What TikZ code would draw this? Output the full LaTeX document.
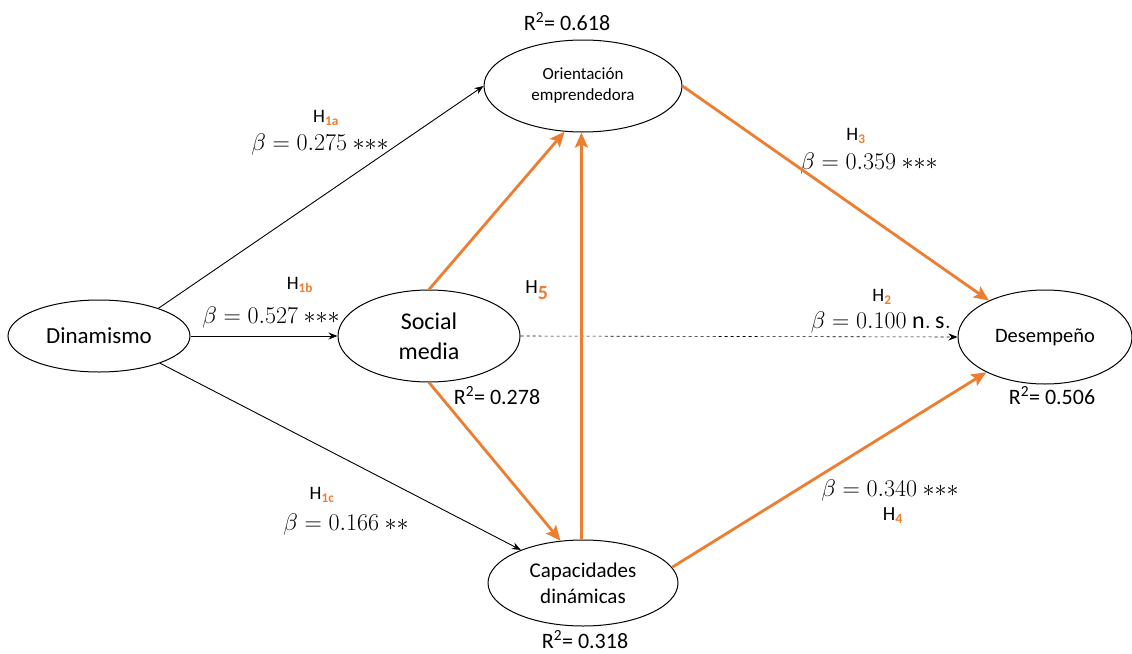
\documentclass[tikz,border=0pt]{standalone}
\usepackage{fix-cm}
\usepackage{fontspec}
\setmainfont{Carlito}
\usepackage{tikz}
\usetikzlibrary{positioning, shapes.geometric, arrows.meta}
\definecolor{hyporange}{HTML}{ED7D31}
\tikzstyle{Arrow} = [
    line width = 0.9pt,
    -{Stealth[length=9pt, width=7pt]}
]
\tikzstyle{OArrow} = [
    line width = 2.8pt, hyporange,
    -{Stealth[length=15pt, width=13pt, inset=3pt]}
]
\newcommand{\hyp}[1]{H\textsubscript{\textcolor{hyporange}{\textbf{#1}}}}

\begin{document}
\begin{tikzpicture}[
x = 1pt, y = -1pt,
construct/.style={
    ellipse,
    draw,
    line width = 1pt,
    inner sep = 0pt,
    align = center
    },
label/.style={
    inner sep = 0pt,
    font = \fontsize{22}{26}\selectfont
    },
beta/.style={
    inner sep = 0pt,
    font = \fontsize{24}{28}\selectfont
    },
hlabel/.style={
    inner sep = 0pt,
    font = \fontsize{19}{22}\selectfont
    }
]
\useasboundingbox (0,0) rectangle (1132,653);

\node [construct, minimum width=182, minimum height=72, font=\fontsize{23}{27}\selectfont] (1) at (99,336) {Dinamismo};
\node [construct, minimum width=198, minimum height=92, font=\fontsize{17}{21}\selectfont] (2) at (583,86) {Orientación\\emprendedora};
\node [construct, minimum width=182, minimum height=92, font=\fontsize{24}{30}\selectfont] (3) at (429,336) {Social\\media};
\node [construct, minimum width=190, minimum height=86, font=\fontsize{21}{26}\selectfont] (4) at (583,583) {Capacidades\\dinámicas};
\node [construct, minimum width=174, minimum height=94, font=\fontsize{20.5}{24}\selectfont] (5) at (1045,337) {Desempeño};

% R squared
\node [label] (r2) at (567,22) {R\textsuperscript{2}= 0.618};
\node [label] (r3) at (497,396) {R\textsuperscript{2}= 0.278};
\node [label] (r4) at (585,640) {R\textsuperscript{2}= 0.318};
\node [label] (r5) at (1052,396) {R\textsuperscript{2}= 0.506};

% paths
\node [hlabel] (h1a) at (326,118) {\hyp{1a}};
\node [beta] (b1a) at (320,144) {$\beta = 0.275\ {\ast}{\ast}{\ast}$};
\node [hlabel] (h1b) at (300,285) {\hyp{1b}};
\node [beta] (b1b) at (271,317) {$\beta = 0.527\ {\ast}{\ast}{\ast}$};
\node [hlabel] (h1c) at (322,495) {\hyp{1c}};
\node [beta] (b1c) at (346,524) {$\beta = 0.166\ {\ast}{\ast}$};
\node [hlabel] (h3) at (856,136) {H\textsubscript{\textcolor{hyporange}{\textbf{3}}}};
\node [beta] (b3) at (869,163) {$\beta = 0.359\ {\ast}{\ast}{\ast}$};
\node [hlabel, font=\fontsize{20}{24}\selectfont] (h5) at (537,290) {H\textsubscript{\textcolor{hyporange}{\textbf{\fontsize{20}{24}\selectfont 5}}}};
\node [hlabel] (h2) at (882,297) {\hyp{2}};
\node [beta] (b2) at (881,322) {$\beta = 0.100\ \mathrm{n.\,s.}$};
\node [beta] (b4) at (890,490) {$\beta = 0.340\ {\ast}{\ast}{\ast}$};
\node [hlabel, font=\fontsize{20}{24}\selectfont] (h4) at (893,516) {\hyp{4}};

\draw[Arrow] (1.25) -- (2.west);
\draw[Arrow] (1.east) -- (3.west);
\draw[Arrow] (1.-24) -- (4.152);
\draw[Arrow, dashed, line width=0.6pt, dash pattern=on 3pt off 3pt] (3.east) -- (5.west);

\draw[OArrow] (3.north) -- (2.-112);
\draw[OArrow] (3.south) -- (4.118);
\draw[OArrow] (4.92) -- (2.-92);
\draw[OArrow] (2.east) -- (5.147);
\draw[OArrow] (4.10) -- (5.211);

\end{tikzpicture}
\end{document}
